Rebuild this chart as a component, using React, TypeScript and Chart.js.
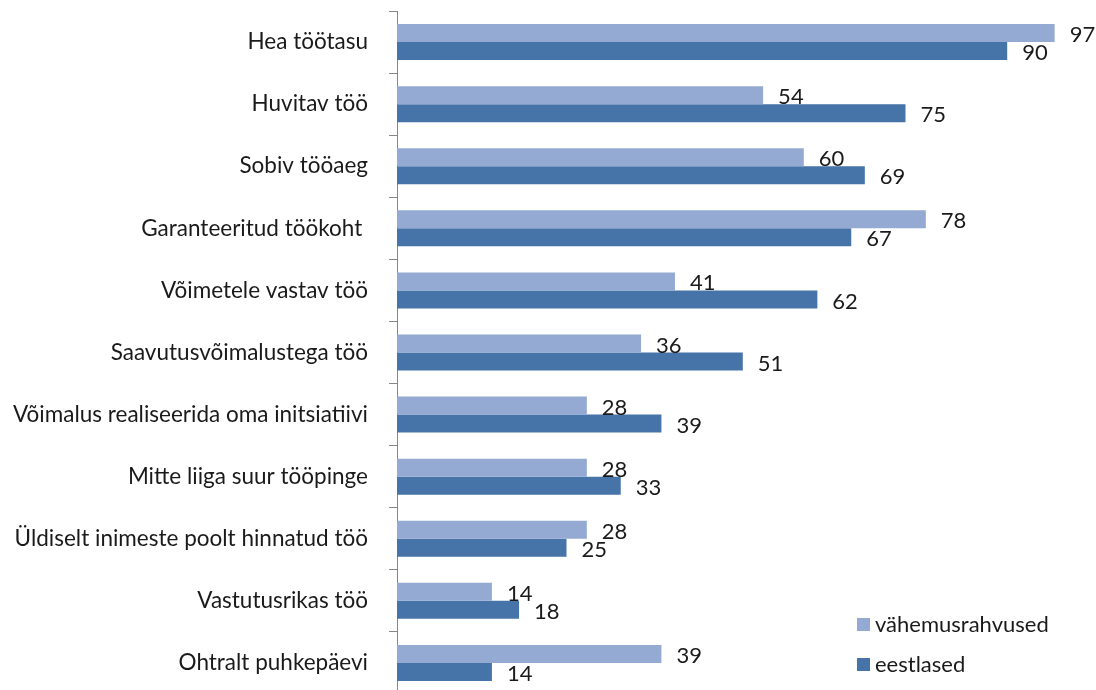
import React, { useEffect, useRef } from "react";
import { Chart, registerables } from "chart.js";

Chart.register(...registerables);

const categories = [
  "Hea töötasu",
  "Huvitav töö",
  "Sobiv tööaeg",
  "Garanteeritud töökoht ",
  "Võimetele vastav töö",
  "Saavutusvõimalustega töö",
  "Võimalus realiseerida oma initsiatiivi",
  "Mitte liiga suur tööpinge",
  "Üldiselt inimeste poolt hinnatud töö",
  "Vastutusrikas töö",
  "Ohtralt puhkepäevi",
];
const seriesNames = ["vähemusrahvused", "eestlased"];
const minorities = [97, 54, 60, 78, 41, 36, 28, 28, 28, 14, 39];
const estonians = [90, 75, 69, 67, 62, 51, 39, 33, 25, 18, 14];

const FONT = "Lato, 'Open Sans', sans-serif";
const TEXT = "#1a1a1a";

const valueLabels = {
  id: "valueLabels",
  afterDatasetsDraw(chart: any) {
    const ctx = chart.ctx;
    ctx.save();
    ctx.font = `22px ${FONT}`;
    ctx.fillStyle = TEXT;
    ctx.textAlign = "left";
    ctx.textBaseline = "middle";
    chart.data.datasets.forEach((ds: any, di: number) => {
      const meta = chart.getDatasetMeta(di);
      meta.data.forEach((el: any, i: number) => {
        ctx.fillText(String(ds.data[i]), el.x + 15, el.y + 2);
      });
    });
    ctx.restore();
  },
};

const insideLegend = {
  id: "insideLegend",
  afterDraw(chart: any) {
    const ctx = chart.ctx;
    ctx.save();
    ctx.font = `22px ${FONT}`;
    ctx.textAlign = "left";
    ctx.textBaseline = "middle";
    const x = 857;
    const ys = [625, 665];
    chart.data.datasets.forEach((ds: any, di: number) => {
      const y = ys[di];
      ctx.fillStyle = ds.backgroundColor;
      ctx.fillRect(x, y - 7, 13, 13);
      ctx.fillStyle = TEXT;
      ctx.fillText(ds.label, x + 18, y);
    });
    ctx.restore();
  },
};

export default function App() {
  const ref = useRef<HTMLCanvasElement | null>(null);
  useEffect(() => {
    if (!ref.current) return;
    const chart = new Chart(ref.current, {
      type: "bar",
      data: {
        labels: categories,
        datasets: [
          {
            label: seriesNames[0],
            data: minorities,
            backgroundColor: "#94AAD3",
            borderColor: "#b9c9e6",
            borderWidth: 0,
          },
          {
            label: seriesNames[1],
            data: estonians,
            backgroundColor: "#4673A8",
            borderColor: "#7c9bc4",
            borderWidth: 0,
          },
        ],
      },
      options: {
        indexAxis: "y",
        animation: false,
        responsive: false,
        maintainAspectRatio: false,
        layout: { padding: { top: 11, right: 21, bottom: 6, left: 0 } },
        datasets: {
          bar: { categoryPercentage: 0.58, barPercentage: 1 },
        },
        plugins: {
          legend: { display: false },
          tooltip: { enabled: false },
        },
        scales: {
          x: { display: false, min: 0, max: 100 },
          y: {
            afterFit(scale: any) {
              scale.width = 397;
              scale.paddingTop = 0;
              scale.paddingBottom = 0;
            },
            grid: {
              offset: true,
              drawOnChartArea: false,
              drawTicks: true,
              tickLength: 8,
              color: "#868686",
            },
            border: { display: true, color: "#868686", width: 1 },
            ticks: {
              padding: 21,
              color: TEXT,
              font: { family: FONT, size: 22.5 },
            },
          },
        },
      },
      plugins: [valueLabels, insideLegend],
    });
    return () => chart.destroy();
  }, []);
  return (
    <div style={{ position: "absolute", left: 0, top: 0, width: 1096, height: 700 }}>
      <canvas ref={ref} width={1096} height={700} style={{ display: "block" }} />
    </div>
  );
}
